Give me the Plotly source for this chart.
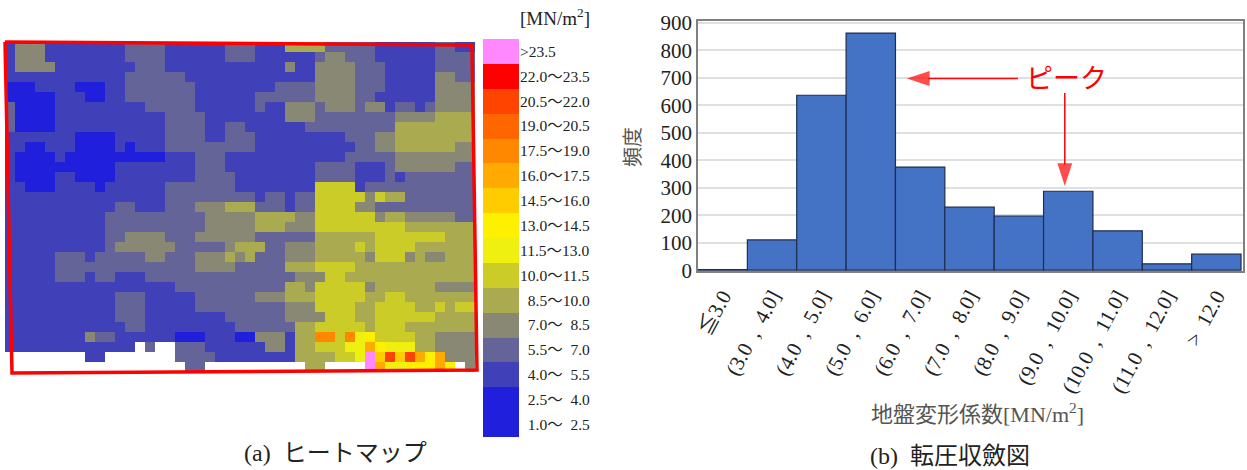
import plotly.graph_objects as go

W, H = 1247, 470
SERIF = "Liberation Serif, Noto Sans CJK JP, serif"
CJK = "Noto Sans CJK JP, Liberation Serif, serif"
INK = "#222222"
NB = "\u00a0"

# ---------- heat map classes, lowest first ----------
CODES = "abcdefghijklmnop"
CLASS_COLORS = ["#2020DC", "#2020DC", "#4040B8", "#646498", "#888874", "#AAAA50",
                "#CCCC28", "#F0F010", "#FFF000", "#FFCC00", "#FFAA00", "#FF8800",
                "#FF6600", "#FF4400", "#FF0000", "#FF88FF"]
CLASS_LABELS = ["\u20071.0\uff5e\u20072.5", "\u20072.5\uff5e\u20074.0", "\u20074.0\uff5e\u20075.5", "\u20075.5\uff5e\u20077.0",
                "\u20077.0\uff5e\u20078.5", "\u20078.5\uff5e10.0", "10.0\uff5e11.5", "11.5\uff5e13.0",
                "13.0\uff5e14.5", "14.5\uff5e16.0", "16.0\uff5e17.5", "17.5\uff5e19.0",
                "19.0\uff5e20.5", "20.5\uff5e22.0", "22.0\uff5e23.5", ">23.5"]

# each row: class letter + first column of that run, '.' = no data
HEAT_ROWS = [
    "c0 e1 c4 d12 c16 d22 c25 f28 d32 c37 d43 c45",
    "c0 e1 c4 d12 c16 d22 c25 d31 e32 d34 c37 d43",
    "c0 e1 c5 d13 c16 e28 c29 e31 d35 c38 d43",
    "c0 d12 c18 e31 d35 c38 e43 d45",
    "b0 c3 b7 c10 d12 c19 d27 e31 d35 c38 e43",
    "b0 c5 b8 c10 d12 c19 d25 e31 d35 c37 e43",
    "d0 b1 c5 d14 c19 d25 c26 e28 d31 e32 d35 e36 c38 d39 c41 d42 e43",
    "d0 b1 c5 d16 c20 e28 d31 e39 f43",
    "d0 b1 c5 d16 c20 d22 c24 d30 f39",
    "c0 b7 c11 d16 c20 d22 c25 d34 e37 f39",
    "c0 b2 c4 b7 c11 b12 c13 d16 c25 d35 e37 f39 e45",
    "c0 b1 c5 b6 c16 d19 c22 d34 e39",
    "c0 b1 c11 d19 c22 d31 c35 d38 e39 d45",
    "c0 b1 c5 b7 c11 d19 c23 d31 c35 d38 c39 d40",
    "c0 b2 c5 b9 c10 d16 c23 g31 c35 d36",
    "c0 d16 c25 d26 c28 d29 g31 e36 g37 f38 d40",
    "c0 d11 c13 d16 e19 f22 d25 c28 d29 g31 e35 d37",
    "c0 d10 e20 f25 e29 g31 e37 f38 e40 d45",
    "c0 d10 e20 f25 e28 g31 f40",
    "c0 d10 e12 d16 e19 d25 f31 g37 f44",
    "c0 d10 e11 d17 e22 f23 d26 e28 f31 g35 f36 g37 f41",
    "c0 d5 c8 d9 e14 d16 e19 f22 e23 f24 d25 e28 f31 e36 g37 e40 f41 e42 f44",
    "c0 d5 e19 d23 f28 g31 f35",
    "c0 d5 c8 d9 c11 d14 e29 g32 f34",
    "c0 d17 f28 e30 g31 e36 f37 e43",
    "c0 d11 c14 d19 e25 f28 g31 f36 g38 f40",
    "c0 d11 c14 d19 e28 g31 f35 g37 f41 g43 f44 g45",
    "c0 d11 c14 d22 e28 g32 f35 g37 f43",
    "c0 d12 c14 d23 f29 g31 f36 g37 f40",
    "c0 e8 d9 c11 b17 c20 b23 e25 c28 f29 l31 g33 l34 h35 i36 g37 f41 e43",
    "c0 .13 d14 .15 d17 c20 e26 c28 f29 g31 h34 k36 i37 h38 f41 e43",
    ".0 c8 .10 d17 c21 f29 g33 h35 p36 j37 n38 j39 n40 k41 i42 k43 e44",
    ".0 d18 .20 f30 .32 p36 k37 h38 i40 k43 i44 .45 e46",
]
N_COLS = 47
OUTLINE_COL = [-0.5, 46.2, 46.7, 0.2, -0.5]
OUTLINE_ROW = [-0.5, -0.2, 32.3, 32.6, -0.5]

# ---------- histogram ----------
BINS = ["\u22663.0", "(3.0 , 4.0]", "(4.0 , 5.0]", "(5.0 , 6.0]", "(6.0 , 7.0]", "(7.0 , 8.0]",
        "(8.0 , 9.0]", "(9.0 , 10.0]", "(10.0 , 11.0]", "(11.0 , 12.0]", "> 12.0"]
COUNTS = [2, 110, 636, 862, 375, 229, 197, 287, 143, 23, 58]
Y_TICKS = [0, 100, 200, 300, 400, 500, 600, 700, 800, 900]
ARROW_LEFT_X = [5.98, 3.73]
ARROW_LEFT_Y = [697, 697]
ARROW_DOWN_X = [6.93, 6.93]
ARROW_DOWN_Y = [644, 306]


def decode(row):
    runs = [(p[0], int(p[1:])) for p in row.split()]
    out = [None] * N_COLS
    for k, (ch, start) in enumerate(runs):
        end = runs[k + 1][1] if k + 1 < len(runs) else N_COLS
        for i in range(start, end):
            out[i] = None if ch == "." else CODES.index(ch)
    return out


n = len(CLASS_COLORS)
scale = []
for k, c in enumerate(CLASS_COLORS):
    scale += [[k / n, c], [(k + 1) / n, c]]


def xdom(a, b):
    return [a / W, b / W]


def ydom(top, bottom):
    return [1 - bottom / H, 1 - top / H]


def note(px, py, text, size, color=INK, family=SERIF, **kw):
    return dict(xref="paper", yref="paper", x=px / W, y=1 - py / H, xanchor="center", yanchor="middle",
                showarrow=False, text=text, font=dict(family=family, size=size, color=color), **kw)


fig = go.Figure()
fig.add_trace(go.Heatmap(z=[decode(r) for r in HEAT_ROWS], colorscale=scale, zmin=-0.5, zmax=n - 0.5,
                         showscale=False, xaxis="x", yaxis="y", hoverongaps=False))
fig.add_trace(go.Scatter(x=OUTLINE_COL, y=OUTLINE_ROW, mode="lines", xaxis="x", yaxis="y",
                         line=dict(color="#FF0000", width=3.5), showlegend=False))
legend_order = list(range(n - 1, -1, -1))
fig.add_trace(go.Heatmap(z=[[k] for k in legend_order], colorscale=scale, zmin=-0.5, zmax=n - 0.5,
                         showscale=False, xaxis="x3", yaxis="y3"))
fig.add_trace(go.Bar(x=list(range(len(BINS))), y=COUNTS, width=1, xaxis="x2", yaxis="y2",
                     marker=dict(color="#4472C4", line=dict(color="#1F2D50", width=1.2)),
                     showlegend=False))
for ax_x, ax_y in ((ARROW_LEFT_X, ARROW_LEFT_Y), (ARROW_DOWN_X, ARROW_DOWN_Y)):
    fig.add_trace(go.Scatter(x=ax_x, y=ax_y, mode="lines+markers", xaxis="x2", yaxis="y2", showlegend=False,
                             line=dict(color="#FF0000", width=1.5),
                             marker=dict(symbol="arrow", angleref="previous", size=[0, 24], color="#FF0000",
                                         line=dict(width=0))))

tick_text = [b.replace(" , ", NB * 2 + "," + NB * 2).replace("> ", ">" + NB * 2) for b in BINS]

fig.update_layout(
    width=W, height=H, margin=dict(l=0, r=0, t=0, b=0, autoexpand=False), paper_bgcolor="white",
    plot_bgcolor="white", showlegend=False,
    xaxis=dict(domain=xdom(0, 480), range=[-1, 47], visible=False),
    yaxis=dict(domain=ydom(35, 380), range=[33.3, -1.2], visible=False),
    xaxis3=dict(domain=xdom(483, 519), range=[-0.5, 0.5], visible=False, anchor="y3"),
    yaxis3=dict(domain=ydom(39, 437), range=[n - 0.5, -0.5], anchor="x3", side="right",
                tickmode="array", tickvals=list(range(n)), ticktext=[CLASS_LABELS[k] for k in legend_order],
                ticks="", showgrid=False, zeroline=False, showline=False, ticklabelstandoff=0,
                tickfont=dict(family=SERIF, size=15.5, color=INK)),
    xaxis2=dict(domain=xdom(698, 1243), range=[-0.5, 10.54], anchor="y2", tickmode="array",
                tickvals=list(range(len(BINS))), ticktext=tick_text, tickangle=-62, ticks="", showgrid=False,
                zeroline=False, showline=True, mirror=True, linecolor="#808080", linewidth=1.5,
                ticklabelstandoff=3, tickfont=dict(family=SERIF, size=21, color=INK)),
    yaxis2=dict(domain=ydom(21, 271), range=[-3, 906], anchor="x2", tickmode="array", tickvals=Y_TICKS,
                ticks="", showgrid=True, gridcolor="#E0E0E0", gridwidth=1.5, zeroline=False,
                showline=True, mirror=True, linecolor="#808080", linewidth=1.5,
                tickfont=dict(family=SERIF, size=21, color=INK)),
    annotations=[
        note(555, 17, "[MN/m<sup>2</sup>]", 19),
        note(335, 453, "(a)  \u30d2\u30fc\u30c8\u30de\u30c3\u30d7", 24),
        note(950, 456, "(b)  \u8ee2\u5727\u53ce\u6582\u56f3", 24),
        note(977, 413, "\u5730\u76e4\u5909\u5f62\u4fc2\u6570[MN/m<sup>2</sup>]", 22, color="#555555"),
        note(632, 147, "\u983b\u5ea6", 20, color="#555555", family=CJK, textangle=-90),
        dict(xref="x2", yref="y2", x=6.97, y=705, showarrow=False, text="\u30d4\u30fc\u30af",
             xanchor="center", yanchor="middle", font=dict(family=CJK, size=27, color="#FF0000")),
    ],
)
fig.write_html("out.html", config={"displayModeBar": False},
               post_script="document.body.style.margin='0';document.body.style.overflow='hidden';")
